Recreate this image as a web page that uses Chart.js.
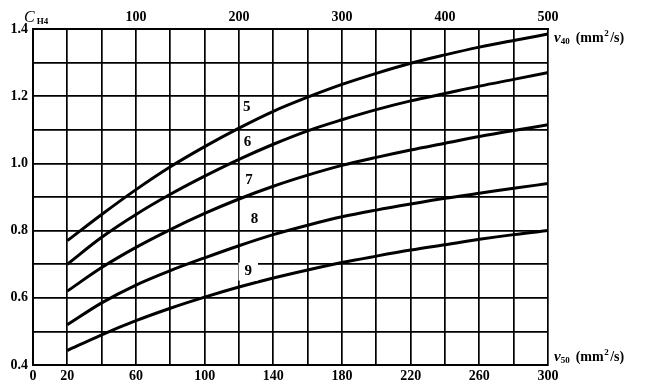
<!DOCTYPE html>
<html>
<head>
<meta charset="utf-8">
<script src="https://cdn.jsdelivr.net/npm/chart.js@4/dist/chart.umd.min.js"></script>
<style>
html,body{margin:0;padding:0;background:#fff;}
#wrap{position:relative;width:650px;height:389px;}
</style>
</head>
<body>
<div id="wrap"><canvas id="c" width="650" height="389"></canvas></div>
<script>
// ν50 (mm²/s) bottom axis positions
const nu50 = [20, 40, 60, 80, 100, 120, 140, 160, 180, 200, 220, 240, 260, 280, 300];
const curveNames = ['5', '6', '7', '8', '9'];
const curve5 = [0.77, 0.848, 0.922, 0.99, 1.05, 1.105, 1.155, 1.197, 1.235, 1.268, 1.298, 1.323, 1.346, 1.366, 1.385];
const curve6 = [0.70, 0.78, 0.848, 0.908, 0.962, 1.012, 1.057, 1.097, 1.13, 1.16, 1.186, 1.208, 1.23, 1.25, 1.27];
const curve7 = [0.62, 0.69, 0.75, 0.803, 0.851, 0.894, 0.932, 0.965, 0.994, 1.018, 1.04, 1.06, 1.08, 1.098, 1.115];
const curve8 = [0.52, 0.585, 0.638, 0.681, 0.719, 0.755, 0.788, 0.816, 0.841, 0.861, 0.879, 0.896, 0.911, 0.926, 0.94];
const curve9 = [0.443, 0.49, 0.532, 0.569, 0.602, 0.632, 0.659, 0.683, 0.705, 0.724, 0.742, 0.758, 0.774, 0.788, 0.80];
const bottomTickLabels = [0, 20, 60, 100, 140, 180, 220, 260, 300];
const topTickLabels = [100, 200, 300, 400, 500];
const yTickLabels = [0.4, 0.6, 0.8, 1.0, 1.2, 1.4];

const allCurves = [curve5, curve6, curve7, curve8, curve9];

const tickFont = {family: 'Liberation Serif', weight: 'bold', size: 14};

const datasets = allCurves.map((vals, i) => ({
  label: curveNames[i],
  data: vals.map((v, k) => ({x: nu50[k], y: v})),
  borderColor: '#000',
  borderWidth: 3,
  pointRadius: 0,
  fill: false,
  cubicInterpolationMode: 'monotone',
  xAxisID: 'x',
  yAxisID: 'y'
}));

// label anchor positions (data units) for curve numbers
const labelAnchors = [[124.5, 1.166], [125, 1.064], [125.8, 0.951], [129, 0.834], [125.4, 0.678]];

const textPlugin = {
  id: 'texts',
  afterDatasetsDraw(chart) {
    const ctx = chart.ctx;
    const xs = chart.scales.x, ys = chart.scales.y;
    const ca = chart.chartArea;
    ctx.save();
    ctx.fillStyle = '#000';
    ctx.textBaseline = 'middle';
    ctx.textAlign = 'center';
    // curve numbers
    ctx.font = 'bold 15px "Liberation Serif"';
    curveNames.forEach((n, i) => {
      const px = xs.getPixelForValue(labelAnchors[i][0]);
      const py = ys.getPixelForValue(labelAnchors[i][1]);
      const w = ctx.measureText(n).width;
      if (i === 4) {
        ctx.fillStyle = '#fff';
        ctx.fillRect(px - w / 2 - 6, py - 9, w + 12, 18);
        ctx.fillStyle = '#000';
      }
      ctx.fillText(n, px, py);
    });
    ctx.textAlign = 'left';
    ctx.textBaseline = 'alphabetic';
    // C_H4
    let x0 = ca.left - 9, yb = ca.top - 7;
    ctx.font = 'italic 16px "Liberation Serif"';
    ctx.fillText('C', x0, yb);
    let w = ctx.measureText('C').width;
    ctx.font = 'bold 9px "Liberation Serif"';
    ctx.fillText('H4', x0 + w + 2, yb + 2);
    // ν labels
    function nuLabel(sub, x, y) {
      ctx.font = 'italic bold 15px "Liberation Serif"';
      ctx.fillText('ν', x, y);
      let cx = x + ctx.measureText('ν').width;
      ctx.font = 'bold 9px "Liberation Serif"';
      ctx.fillText(sub, cx, y + 2);
      cx += ctx.measureText(sub).width + 6;
      ctx.font = 'bold 14px "Liberation Serif"';
      ctx.fillText('(mm', cx, y);
      cx += ctx.measureText('(mm').width;
      ctx.font = 'bold 9px "Liberation Serif"';
      ctx.fillText('2', cx + 0.5, y - 6);
      cx += ctx.measureText('2').width + 2;
      ctx.font = 'bold 14px "Liberation Serif"';
      ctx.fillText('/s)', cx, y);
    }
    nuLabel('40', ca.right + 6, ys.getPixelForValue(1.4) + 13);
    nuLabel('50', ca.right + 6, ca.bottom - 4);
    ctx.restore();
  }
};

new Chart(document.getElementById('c'), {
  type: 'line',
  data: {datasets},
  options: {
    responsive: false,
    animation: false,
    devicePixelRatio: 1,
    layout: {padding: {left: 0, right: 102, top: 0, bottom: 0}},
    plugins: {legend: {display: false}, tooltip: {enabled: false}},
    scales: {
      x: {
        type: 'linear', position: 'bottom', min: 0, max: 300,
        afterFit(s) { s.height = 24; },
        ticks: {
          stepSize: 20, autoSkip: false, maxRotation: 0, padding: 3,
          color: '#000', font: tickFont,
          callback: v => bottomTickLabels.includes(v) ? String(v) : ''
        },
        grid: {color: '#000', lineWidth: 1.7, drawTicks: false},
        border: {display: true, color: '#000', width: 2}
      },
      x2: {
        type: 'linear', position: 'top', min: 0, max: 500,
        afterFit(s) { s.height = 29; },
        ticks: {
          stepSize: 100, autoSkip: false, maxRotation: 0, padding: 3,
          color: '#000', font: tickFont,
          callback: v => topTickLabels.includes(v) ? String(v) : ''
        },
        grid: {display: false, drawTicks: false},
        border: {display: true, color: '#000', width: 2}
      },
      y: {
        type: 'linear', position: 'left', min: 0.4, max: 1.4,
        afterFit(s) { s.width = 33; },
        ticks: {
          stepSize: 0.1, autoSkip: false, padding: 5,
          color: '#000', font: tickFont,
          callback: v => {
            const r = Math.round(v * 10) / 10;
            return yTickLabels.some(t => Math.abs(t - r) < 1e-6) ? r.toFixed(1) : '';
          }
        },
        grid: {color: '#000', lineWidth: 1.7, drawTicks: false},
        border: {display: true, color: '#000', width: 2}
      }
    }
  },
  plugins: [textPlugin]
});
</script>
</body>
</html>
